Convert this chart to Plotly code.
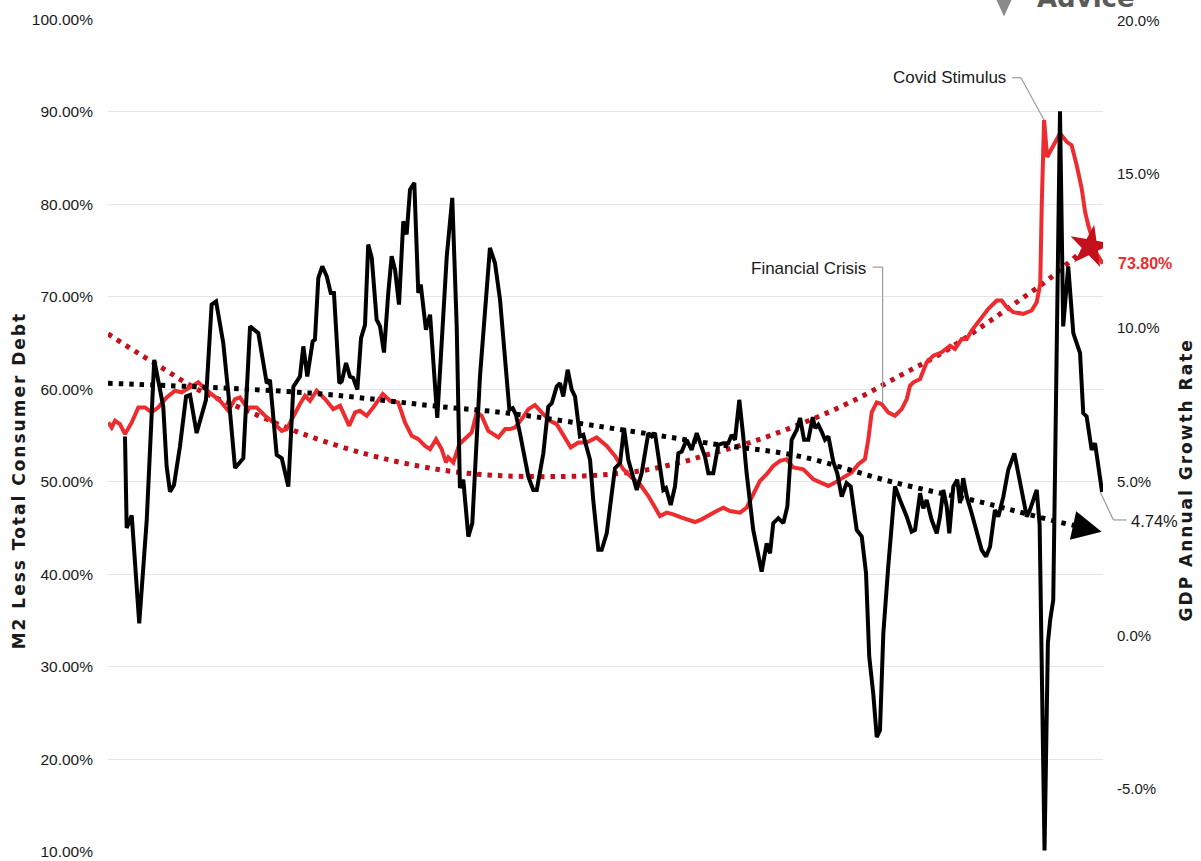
import plotly.graph_objects as go

RED = "#EE2C2F"
DARK_RED = "#C4101C"
TXT = "#1a1a1a"

# M2 less total consumer debt (left axis, %), decimal years
m2_year = [1959.02, 1959.24, 1959.46, 1959.78, 1960.11, 1960.55, 1960.98, 1961.42, 1961.85, 1962.29,
           1962.83, 1963.38, 1963.81, 1964.36, 1964.90, 1965.34, 1965.88, 1966.32, 1966.86, 1967.30,
           1967.62, 1968.06, 1968.71, 1969.26, 1969.80, 1970.35, 1970.67, 1971.11, 1971.54, 1971.87,
           1972.20, 1972.63, 1973.18, 1973.72, 1974.16, 1974.76, 1975.14, 1975.46, 1975.90, 1976.33,
           1976.95, 1977.42, 1977.96, 1978.40, 1978.84, 1979.27, 1979.71, 1980.04, 1980.43, 1980.80,
           1981.08, 1981.23, 1981.56, 1981.95, 1982.32, 1982.76, 1983.09, 1983.41, 1983.84, 1984.50,
           1984.94, 1985.26, 1985.59, 1986.03, 1986.46, 1986.89, 1987.33, 1987.87, 1988.31, 1988.74,
           1989.23, 1989.72, 1990.27, 1990.92, 1991.58, 1992.12, 1992.66, 1993.21, 1993.75, 1994.30,
           1994.84, 1995.06, 1995.50, 1995.93, 1996.48, 1996.91, 1997.35, 1997.78, 1998.33, 1998.76,
           1999.20, 1999.63, 2000.29, 2000.72, 2001.15, 2001.59, 2002.03, 2002.46, 2002.90, 2003.33,
           2003.77, 2004.42, 2005.08, 2005.62, 2006.06, 2006.49, 2007.04, 2007.58, 2008.02, 2008.45,
           2008.67, 2008.89, 2009.22, 2009.54, 2009.97, 2010.41, 2010.85, 2011.18, 2011.39, 2011.61,
           2012.05, 2012.48, 2012.92, 2013.46, 2014.01, 2014.33, 2014.77, 2015.10, 2015.42, 2015.97,
           2016.51, 2017.06, 2017.38, 2017.71, 2018.14, 2018.79, 2019.34, 2019.67, 2019.90, 2020.00,
           2020.15, 2020.35, 2020.75, 2021.19, 2021.63, 2021.95, 2022.28, 2022.61, 2022.83, 2023.04,
           2023.37, 2023.59, 2023.92, 2024.00]
m2_less_debt = [56.41, 55.87, 56.59, 56.23, 55.15, 56.41, 58.04, 58.04, 57.50, 58.04,
                59.12, 59.84, 59.66, 60.20, 60.75, 60.02, 59.30, 58.75, 57.67, 58.94,
                59.12, 58.04, 58.04, 57.13, 56.41, 55.50, 55.69, 57.13, 58.40, 59.30,
                58.75, 59.84, 58.94, 57.85, 58.21, 56.05, 57.50, 57.67, 57.13, 58.04,
                59.48, 58.75, 58.58, 56.41, 54.96, 54.60, 53.88, 53.52, 54.60, 53.52,
                52.08, 52.62, 52.08, 54.06, 54.60, 55.33, 57.50, 57.13, 55.50, 54.79,
                55.69, 55.69, 55.87, 56.77, 57.85, 58.29, 57.50, 56.59, 56.23, 54.96,
                53.70, 54.24, 54.24, 54.79, 53.88, 52.80, 51.35, 50.45, 49.73, 48.46,
                46.84, 46.29, 46.66, 46.48, 46.12, 45.94, 45.65, 45.94, 46.48, 46.84,
                47.20, 46.84, 46.66, 47.20, 48.65, 50.09, 50.81, 51.71, 52.25, 52.44,
                51.54, 51.35, 50.27, 49.91, 49.55, 49.91, 50.45, 51.00, 51.90, 52.44,
                54.60, 57.50, 58.58, 58.40, 57.50, 57.13, 57.85, 58.94, 60.38, 60.75,
                61.10, 62.91, 63.63, 64.00, 64.71, 64.36, 65.44, 65.44, 66.34, 67.60,
                68.69, 69.59, 69.59, 68.87, 68.33, 68.15, 68.51, 69.41, 71.40, 80.00,
                89.10, 85.10, 86.38, 87.65, 86.75, 86.38, 84.21, 81.69, 79.16, 77.71,
                75.92, 74.65, 73.75, 73.80]

# GDP annual growth rate (right axis, %)
gdp_year = [1960.11, 1960.22, 1960.55, 1961.04, 1961.53, 1962.02, 1962.61, 1962.83, 1963.05, 1963.31,
            1963.70, 1964.10, 1964.36, 1964.79, 1965.40, 1965.77, 1966.06, 1966.53, 1966.86, 1967.30,
            1967.84, 1968.28, 1968.82, 1969.37, 1969.58, 1970.02, 1970.35, 1970.78, 1971.11, 1971.54,
            1971.76, 1972.02, 1972.37, 1972.52, 1972.74, 1973.00, 1973.29, 1973.55, 1973.76, 1974.11,
            1974.27, 1974.55, 1974.81, 1975.02, 1975.29, 1975.53, 1975.79, 1976.00, 1976.23, 1976.55,
            1976.77, 1977.03, 1977.31, 1977.53, 1977.75, 1978.01, 1978.29, 1978.51, 1978.73, 1979.01,
            1979.27, 1979.43, 1979.77, 1980.04, 1980.51, 1981.13, 1981.49, 1981.78, 1981.99, 1982.21,
            1982.54, 1982.80, 1983.30, 1983.95, 1984.28, 1984.61, 1985.22, 1985.44, 1985.65, 1985.91,
            1986.46, 1986.78, 1987.01, 1987.44, 1987.76, 1987.99, 1988.31, 1988.53, 1988.74, 1989.03,
            1989.29, 1989.51, 1989.83, 1990.05, 1990.49, 1990.70, 1991.03, 1991.25, 1991.58, 1992.12,
            1992.45, 1992.71, 1992.99, 1993.54, 1993.86, 1994.30, 1994.52, 1994.73, 1995.28, 1995.45,
            1995.76, 1996.04, 1996.26, 1996.48, 1996.80, 1997.13, 1997.46, 1997.78, 1998.00, 1998.22,
            1998.54, 1998.87, 1999.20, 1999.52, 1999.74, 1999.96, 2000.24, 2000.50, 2000.72, 2001.15,
            2001.70, 2002.03, 2002.25, 2002.46, 2002.79, 2003.12, 2003.38, 2003.66, 2003.99, 2004.21,
            2004.47, 2004.75, 2005.04, 2005.19, 2005.40, 2005.62, 2005.84, 2006.06, 2006.38, 2006.64,
            2006.93, 2007.25, 2007.52, 2007.91, 2008.24, 2008.52, 2008.73, 2008.99, 2009.22, 2009.43,
            2009.65, 2009.97, 2010.41, 2010.74, 2011.18, 2011.50, 2011.72, 2012.05, 2012.26, 2012.48,
            2012.81, 2013.14, 2013.35, 2013.57, 2013.79, 2013.96, 2014.22, 2014.48, 2014.66, 2014.87,
            2015.10, 2015.42, 2015.75, 2016.07, 2016.36, 2016.62, 2016.94, 2017.16, 2017.49, 2017.81,
            2018.21, 2018.58, 2019.02, 2019.23, 2019.45, 2019.67, 2019.86, 2020.18, 2020.40, 2020.55,
            2020.75, 2021.19, 2021.40, 2021.73, 2022.06, 2022.50, 2022.71, 2022.93, 2023.26, 2023.48,
            2023.92, 2024.00]
gdp_growth = [6.47, 3.49, 3.90, 0.39, 3.75, 8.96, 7.44, 5.49, 4.67, 4.89,
              6.14, 7.77, 7.82, 6.58, 7.66, 10.76, 10.86, 9.51, 7.88, 5.44,
              5.76, 10.05, 9.83, 8.20, 8.31, 5.87, 5.76, 4.84, 8.09, 8.42,
              9.40, 8.42, 9.56, 9.62, 11.63, 12.00, 11.68, 11.14, 11.14, 8.20,
              8.26, 8.86, 8.42, 8.37, 7.99, 9.67, 10.10, 12.71, 12.28, 10.27,
              10.05, 9.20, 11.14, 12.33, 11.90, 10.76, 13.47, 13.04, 14.50, 14.72,
              11.14, 11.41, 9.94, 10.43, 7.07, 12.33, 14.23, 10.05, 4.79, 5.06,
              3.21, 3.65, 8.42, 12.60, 12.11, 10.92, 7.34, 7.39, 7.17, 6.58,
              5.16, 4.73, 4.73, 5.92, 7.44, 7.55, 8.09, 8.20, 7.77, 8.64,
              7.99, 7.77, 6.47, 6.52, 5.71, 4.40, 2.78, 2.78, 3.32, 5.44,
              5.60, 6.74, 5.71, 4.73, 5.27, 6.58, 6.47, 6.58, 4.73, 4.79,
              4.24, 4.84, 5.92, 5.98, 6.36, 6.03, 6.58, 6.14, 5.81, 5.27,
              5.27, 6.20, 6.25, 6.25, 6.52, 6.36, 7.66, 6.47, 5.27, 3.43,
              2.07, 2.99, 2.67, 3.65, 3.81, 3.65, 4.19, 6.36, 6.68, 7.07,
              6.36, 6.36, 7.10, 6.74, 6.85, 6.63, 6.36, 6.47, 5.65, 5.27,
              4.51, 4.95, 4.84, 3.43, 3.21, 2.02, -0.70, -1.89, -3.31, -3.09,
              0.06, 2.23, 4.84, 4.40, 3.86, 3.37, 3.43, 4.62, 4.13, 4.40,
              3.75, 3.32, 3.86, 4.73, 4.19, 3.32, 4.84, 5.06, 4.30, 5.11,
              4.51, 3.97, 3.32, 2.78, 2.56, 2.88, 4.08, 3.86, 4.51, 5.38,
              5.92, 4.95, 3.86, 4.08, 4.40, 4.73, 3.60, -7.00, -0.25, 0.50,
              1.15, 17.05, 10.05, 12.00, 9.83, 9.18, 7.23, 7.12, 6.03, 6.25,
              4.73, 4.74]

# polynomial trend lines
m2_trend_year = [1959.0, 1960.87, 1962.83, 1964.79, 1967.84, 1971.76, 1975.90, 1979.27, 1982.11, 1985.05,
                 1990.05, 1993.75, 1996.37, 1997.89, 2000.94, 2004.21, 2007.47, 2010.74, 2013.57, 2016.18,
                 2018.36, 2020.21, 2021.41, 2022.61, 2023.17]
m2_trend = [65.98, 64.00, 62.00, 60.02, 57.85, 55.15, 52.98, 51.71, 50.99, 50.63,
            50.63, 51.17, 52.08, 52.80, 54.24, 56.23, 58.58, 61.47, 64.00, 66.88,
            69.41, 71.58, 73.21, 74.83, 75.40]
gdp_trend_year = [1959.0, 1972.20, 1980.69, 1985.07, 1993.30, 1998.20, 2004.21, 2010.22, 2016.29, 2018.38,
                  2020.99, 2022.50, 2023.20]
gdp_trend = [8.20, 7.88, 7.44, 7.23, 6.63, 6.25, 5.82, 4.99, 4.30, 4.03,
             3.70, 3.53, 3.45]
gdp_trend_tip = (2023.91, 3.37)

left_ticks = [10, 20, 30, 40, 50, 60, 70, 80, 90, 100]
right_ticks = [-5, 0, 5, 10, 15, 20]

FONT = "Liberation Sans, Arial, sans-serif"

fig = go.Figure()
fig.add_trace(go.Scatter(x=m2_trend_year, y=m2_trend, mode="lines", hoverinfo="skip",
                         line=dict(color=DARK_RED, width=5, dash="4.5px,6px", shape="spline")))
fig.add_trace(go.Scatter(x=gdp_trend_year, y=gdp_trend, mode="lines", yaxis="y2", hoverinfo="skip",
                         line=dict(color="#000000", width=5, dash="4.5px,6px", shape="spline")))
fig.add_trace(go.Scatter(x=m2_year, y=m2_less_debt, mode="lines", name="M2 Less Total Consumer Debt",
                         line=dict(color=RED, width=4)))
fig.add_trace(go.Scatter(x=gdp_year, y=gdp_growth, mode="lines", yaxis="y2", name="GDP Annual Growth Rate",
                         line=dict(color="#000000", width=4)))
# star at the end of the red trend
fig.add_trace(go.Scatter(x=m2_trend_year[-1:], y=m2_trend[-1:], mode="markers", hoverinfo="skip",
                         marker=dict(symbol="star", size=32, color=DARK_RED, angle=10)))

peak_i = m2_less_debt.index(max(m2_less_debt))
lead = dict(color="#9a9a9a", width=1.2)
shapes = [
    # Covid Stimulus leader
    dict(type="line", xref="x", yref="y", x0=2018.06, y0=93.67, x1=2018.64, y1=93.67, line=lead),
    dict(type="line", xref="x", yref="y", x0=2018.64, y0=93.67,
         x1=m2_year[peak_i], y1=m2_less_debt[peak_i], line=lead),
    # Financial Crisis leader
    dict(type="line", xref="x", yref="y", x0=2008.95, y0=73.2, x1=2009.6, y1=73.2, line=lead),
    dict(type="line", xref="x", yref="y", x0=2009.6, y0=73.2, x1=2009.6, y1=58.5, line=lead),
    # 4.74% leader
    dict(type="line", xref="paper", yref="paper", x0=0.9977, y0=0.431, x1=1.0104, y1=0.3986, line=lead),
    dict(type="line", xref="paper", yref="paper", x0=1.0104, y0=0.3986, x1=1.0238, y1=0.3986, line=lead),
    # logo fragment at the top edge
    dict(type="path", xref="paper", yref="paper",
         path="M 0.8925 1.024 L 0.9085 1.024 L 0.9005 1.003 Z",
         fillcolor="#8a8a8a", line=dict(width=0)),
]

annotations = [
    # arrow head at the end of the GDP trend
    dict(x=gdp_trend_tip[0], y=gdp_trend_tip[1], xref="x", yref="y2",
         ax=gdp_trend_year[-1] - 0.2, ay=gdp_trend[-1] + 0.02, axref="x", ayref="y2",
         text="", showarrow=True, arrowhead=2, arrowsize=1.3, arrowwidth=4.5, arrowcolor="#000000"),
    dict(text="Financial Crisis", x=2008.65, y=73.0, xref="x", yref="y", xanchor="right",
         showarrow=False, font=dict(family=FONT, size=17, color=TXT)),
    dict(text="Covid Stimulus", x=2017.79, y=93.7, xref="x", yref="y", xanchor="right",
         showarrow=False, font=dict(family=FONT, size=17, color=TXT)),
    dict(text="<b>73.80%</b>", x=1.013, y=73.56, xref="paper", yref="y", xanchor="left",
         showarrow=False, font=dict(family=FONT, size=16, color=RED)),
    dict(text="4.74%", x=1.026, y=3.72, xref="paper", yref="y2", xanchor="left",
         showarrow=False, font=dict(family=FONT, size=16.5, color=TXT)),
    dict(text='<span style="letter-spacing:2px">M2 Less Total Consumer Debt</span>',
         x=-0.09, y=0.4467, xref="paper", yref="paper", textangle=-90, showarrow=False,
         xanchor="center", yanchor="middle",
         font=dict(family="DejaVu Sans", size=17, color=TXT, weight="bold")),
    dict(text='<span style="letter-spacing:2px">GDP Annual Growth Rate</span>',
         x=1.0829, y=0.4467, xref="paper", yref="paper", textangle=-90, showarrow=False,
         xanchor="center", yanchor="middle",
         font=dict(family="DejaVu Sans", size=17, color=TXT, weight="bold")),
    dict(text="<b>Advice</b>", x=0.983, y=1.025, xref="paper", yref="paper", showarrow=False,
         xanchor="center", yanchor="middle", font=dict(family="DejaVu Sans", size=26, color="#5a5a5a")),
]

fig.update_layout(
    width=1201, height=861,
    paper_bgcolor="white", plot_bgcolor="white",
    margin=dict(l=108, r=98, t=19, b=9, autoexpand=False),
    showlegend=False,
    font=dict(family=FONT, size=16, color=TXT),
    xaxis=dict(range=[1959, 2024], showgrid=False, zeroline=False, showticklabels=False,
               showline=False, ticks="", automargin=False),
    yaxis=dict(range=[9.98, 100.02], tickvals=left_ticks,
               ticktext=[f"{v:.2f}%" for v in left_ticks],
               gridcolor="#e6e6e6", gridwidth=1.3, zeroline=False, showline=False,
               ticklabelstandoff=14, ticklabeloverflow="allow", automargin=False,
               tickfont=dict(family=FONT, size=15.5, color=TXT)),
    yaxis2=dict(range=[-7.05, 20.05], tickvals=right_ticks,
                ticktext=[f"{v:.1f}%" for v in right_ticks],
                overlaying="y", side="right", showgrid=False, zeroline=False, showline=False,
                ticklabelstandoff=13, ticklabeloverflow="allow", automargin=False,
                tickfont=dict(family=FONT, size=15, color=TXT)),
    shapes=shapes,
    annotations=annotations,
)

fig.write_html("out.html", config={"displayModeBar": False},
               post_script="document.body.style.margin='0px';")
